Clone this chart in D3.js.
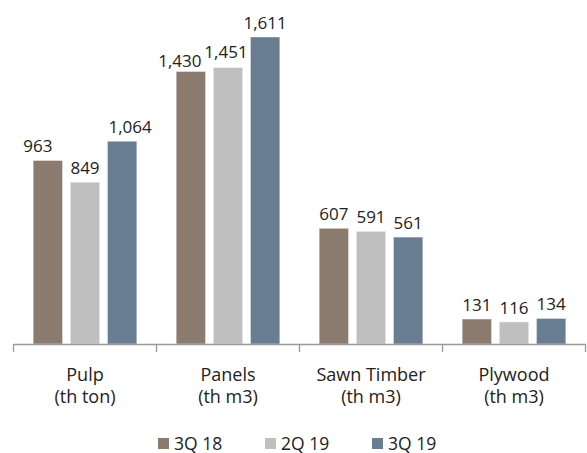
<!DOCTYPE html>
<html>
<head>
<meta charset="utf-8">
<script src="https://cdn.jsdelivr.net/npm/d3@7"></script>
<style>
  html, body { margin: 0; padding: 0; background: #fff; }
  svg { display: block; font-family: "Open Sans", "Noto Sans", sans-serif; }
</style>
</head>
<body>
<svg id="chart" width="587" height="453"></svg>
<script>
// ---- data ----
const categories = ["Pulp", "Panels", "Sawn Timber", "Plywood"];
const units = ["(th ton)", "(th m3)", "(th m3)", "(th m3)"];
const seriesNames = ["3Q 18", "2Q 19", "3Q 19"];
const s3Q18 = [963, 1430, 607, 131];
const s2Q19 = [849, 1451, 591, 116];
const s3Q19 = [1064, 1611, 561, 134];
const colors = ["#8B7B6F", "#BFBFBF", "#687D92"];

const seriesValues = [s3Q18, s2Q19, s3Q19];
const fmt = d3.format(",");

// manual label placement tweaks (as in the original slide), in px
const labelNudge = {
  "Pulp|3Q 18": [-10, 0],
  "Pulp|3Q 19": [8, 0],
  "Panels|3Q 18": [-11, 3],
  "Panels|2Q 19": [-2, -2]
};

const svg = d3.select("#chart");
const left = 13.5, right = 585.5, baseY = 344;
const textCol = "#222222";

const x0 = d3.scaleBand().domain(categories).range([left, right]).padding(0);
const x1 = d3.scaleBand().domain(seriesNames).range([0, x0.bandwidth()])
  .paddingInner(0.21).paddingOuter(0.53);
const y = d3.scaleLinear().domain([0, 1800]).range([baseY, 1]);

const rows = categories.map((c, i) => ({
  cat: c, unit: units[i],
  vals: seriesNames.map((s, j) => ({ c, s, j, v: seriesValues[j][i] }))
}));

const g = svg.append("g");
const groups = g.selectAll("g.cat").data(rows).join("g")
  .attr("class", "cat")
  .attr("transform", d => `translate(${x0(d.cat)},0)`);

groups.selectAll("rect").data(d => d.vals).join("rect")
  .attr("x", d => x1(d.s))
  .attr("width", x1.bandwidth())
  .attr("y", d => y(d.v))
  .attr("height", d => baseY - y(d.v))
  .attr("fill", d => colors[d.j])
  .attr("stroke", "#ffffff")
  .attr("stroke-opacity", 0.4)
  .attr("stroke-width", 1);

const nud = d => labelNudge[d.c + "|" + d.s] || [0, 0];
groups.selectAll("text.val").data(d => d.vals).join("text")
  .attr("class", "val")
  .attr("x", d => x1(d.s) + x1.bandwidth() / 2 + nud(d)[0])
  .attr("y", d => y(d.v) - 8 + nud(d)[1])
  .attr("text-anchor", "middle")
  .attr("font-size", 17)
  .attr("fill", textCol)
  .text(d => fmt(d.v));

// axis line and boundary ticks
const axisCol = "#999999";
g.append("line")
  .attr("x1", left).attr("x2", right)
  .attr("y1", baseY + 0.5).attr("y2", baseY + 0.5)
  .attr("stroke", axisCol).attr("stroke-width", 1.3);
const bounds = categories.map(c => x0(c)).concat([right]);
g.selectAll("line.tick").data(bounds).join("line")
  .attr("class", "tick")
  .attr("x1", d => d).attr("x2", d => d)
  .attr("y1", baseY).attr("y2", baseY + 8)
  .attr("stroke", axisCol).attr("stroke-width", 1.3);

// category labels
const catLab = groups.append("text")
  .attr("text-anchor", "middle")
  .attr("font-size", 18)
  .attr("fill", textCol);
catLab.append("tspan").attr("x", x0.bandwidth() / 2).attr("y", 381).text(d => d.cat);
catLab.append("tspan").attr("x", x0.bandwidth() / 2).attr("y", 403).text(d => d.unit);

// legend
const legX = d3.scaleBand().domain(seriesNames).range([158, 479]);
const leg = svg.append("g").selectAll("g").data(seriesNames).join("g")
  .attr("transform", d => `translate(${legX(d)},0)`);
leg.append("rect").attr("x", 0).attr("y", 438).attr("width", 11).attr("height", 11)
  .attr("fill", (d, i) => colors[i]);
leg.append("text").attr("x", 16).attr("y", 449.5)
  .attr("font-size", 17.5).attr("fill", textCol).text(d => d);
</script>
</body>
</html>
